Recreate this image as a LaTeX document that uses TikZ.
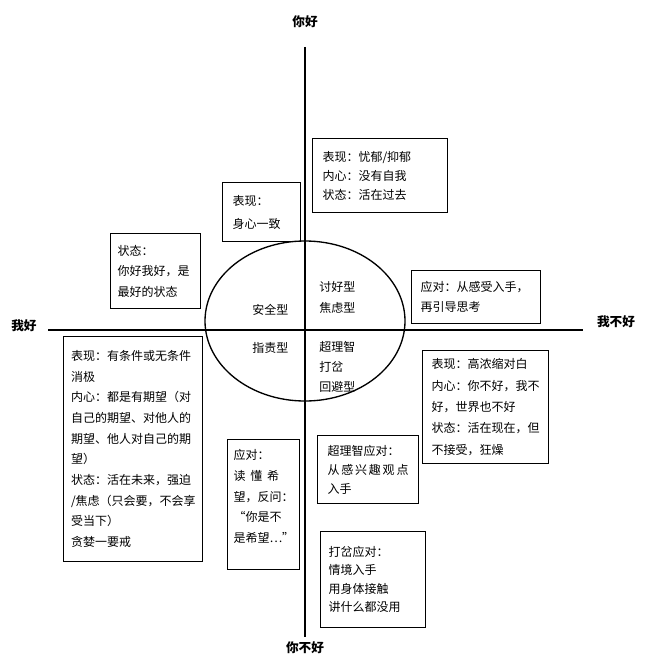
\documentclass[tikz,border=0pt]{standalone}
\usepackage{fontspec}
\setmainfont{Noto Sans CJK SC}
\usepackage{tikz}
\usetikzlibrary{shapes.geometric, positioning}

\newcommand{\notesize}[1]{\fontsize{9pt}{#1}\selectfont}

\tikzstyle{note} = [
    rectangle,
    draw=black,
    line width=0.75pt,
    anchor=north west,
    align=left,
    inner ysep=0pt,
    font=\notesize{15pt}
]
\tikzstyle{kind} = [
    anchor=west,
    align=left,
    inner sep=0pt,
    font=\notesize{15pt}
]
\tikzstyle{axislabel} = [
    inner sep=1pt,
    font=\fontsize{9.5pt}{11pt}\selectfont\bfseries
]
\tikzstyle{axis} = [
    line width=1.5pt,
    color=black
]

\begin{document}
\begin{tikzpicture}[x=0.75pt, y=-0.75pt]
        \useasboundingbox (0,0) rectangle (644,667);

        % Axes
        \coordinate (top) at (305,47);
        \coordinate (bottom) at (305,637);
        \coordinate (left) at (48,330);
        \coordinate (right) at (583,330);
        \draw[axis] (top) -- (bottom);
        \draw[axis] (left) -- (right);

        \node[axislabel] (you) at (305,22) {你好};
        \node[axislabel] (younot) at (305,648) {你不好};
        \node[axislabel] (me) at (24,326) {我好};
        \node[axislabel] (menot) at (616,322) {我不好};

        % Centre ellipse
        \node[ellipse, draw=black, line width=1pt, minimum width=150pt, minimum height=120pt, inner sep=0pt] (core) at (305,321) {};

        \node[kind, font=\notesize{15.75pt}] (please) at (319,297.5) {讨好型\\焦虑型};
        \node[kind] (safe) at (252,310) {安全型};
        \node[kind] (blame) at (252,348) {指责型};
        \node[kind] (reason) at (319,367) {超理智\\打岔\\回避型};

        % Notes - upper half
        \node[note, minimum width=58.5pt, minimum height=44.25pt, inner xsep=7.5pt, text width=43.5pt, font=\notesize{17.25pt}] (calm) at (222,182) {表现：\\身心一致};
        \node[note, minimum width=101.25pt, minimum height=55.5pt, inner xsep=7.5pt, text width=86.25pt, font=\notesize{14.25pt}] (depress) at (312,138) {表现：忧郁/抑郁\\内心：没有自我\\状态：活在过去};
        \node[note, minimum width=67.5pt, minimum height=56.25pt, inner xsep=5.25pt, text width=57pt, font=\notesize{15.4pt}] (state) at (110,233) {状态：\\你好我好，是\\最好的状态};
        \node[note, minimum width=96.75pt, minimum height=39.75pt, inner xsep=6.75pt, text width=83.25pt] (feel) at (411,270) {应对：从感受入手，\\再引导思考};

        % Notes - lower half
        \node[note, minimum width=104.25pt, minimum height=168.75pt, inner xsep=5.6pt, text width=93pt, font=\notesize{15.5pt}] (expect) at (63,336) {表现：有条件或无条件\\消极\\内心：都是有期望（对\\自己的期望、对他人的\\期望、他人对自己的期\\望）\\状态：活在未来，强迫\\/焦虑（只会要，不会享\\受当下）\\贪婪一要戒};
        \node[note, minimum width=94.5pt, minimum height=84.75pt, inner xsep=6.75pt, text width=81pt, font=\notesize{16pt}] (rude) at (422,350) {表现：高浓缩对白\\内心：你不好，我不\\好，世界也不好\\状态：活在现在，但\\不接受，狂燥};
        \node[note, minimum width=54pt, minimum height=97.5pt, inner xsep=4.5pt, text width=45pt, font=\notesize{15.5pt}] (hope) at (227,439) {应对：\\读\hspace{0.4em}懂\hspace{0.4em}希\\望，反问：\\“你是不\\是希望…”\\[-3pt]\mbox{}};
        \node[note, minimum width=75.75pt, minimum height=51pt, inner xsep=7.5pt, text width=60.75pt, font=\notesize{14.25pt}] (rational) at (317,435) {超理智应对：\\从\hfill 感\hfill 兴\hfill 趣\hfill 观\hfill 点\\入手};
        \node[note, minimum width=78.75pt, minimum height=72pt, inner xsep=6pt, text width=66.75pt, font=\notesize{13.9pt}] (distract) at (320,531) {打岔应对：\\情境入手\\用身体接触\\讲什么都没用};
    \end{tikzpicture}
\end{document}
